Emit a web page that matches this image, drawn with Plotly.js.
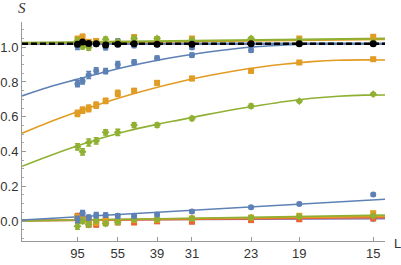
<!DOCTYPE html>
<html><head><meta charset="utf-8">
<script src="https://cdn.plot.ly/plotly-3.0.1.min.js"></script>
<style>html,body{margin:0;padding:0;background:#fff}#c{width:401px;height:265px}</style>
</head><body><div id="c"></div>
<script>
// System sizes L (x axis shows 1/L)
const L = [95, 87, 79, 71, 63, 55, 47, 39, 31, 23, 19, 15];
const tickL = [95, 55, 39, 31, 23, 19, 15];
const yTicks = [0.0, 0.2, 0.4, 0.6, 0.8, 1.0];

// top cluster (near 1)
const topBlack  = [1.017, 1.03, 1.022, 1.02, 1.012, 1.017, 1.02, 1.017, 1.017, 1.02, 1.02, 1.02];
const topGreen  = [1.035, 1.005, 0.998, 1.02, 1.046, 1.03, 1.05, 1.05, 1.04, 1.05, 1.04, 1.03];
const topOrange = [1.045, 1.06, 1.03, 1.036, 1.02, 1.025, 1.058, 1.045, 1.05, 1.04, 1.05, 1.06];
const topBlue   = [1.005, 1.02, 1.012, 1.02, 0.998, 1.035, 1.01, 1.015, 0.998, 1.02, 1.02, 1.02];

// middle curves
const midBlue   = [0.79, 0.806, 0.84, 0.864, 0.862, 0.90, 0.914, 0.937, 0.954, 0.983, 1.02, 1.02];
const midOrange = [0.619, 0.638, 0.648, 0.667, 0.691, 0.734, 0.749, 0.795, 0.82, 0.864, 0.912, 0.931];
const midGreen  = [0.427, 0.398, 0.452, 0.461, 0.51, 0.51, 0.552, 0.552, 0.59, 0.661, 0.69, 0.73];

// bottom cluster (near 0)
const botBlue   = [0.01, 0.045, 0.02, 0.034, 0.034, 0.03, 0.03, 0.038, 0.055, 0.079, 0.098, 0.152];
const botOrange = [0.02, 0.01, 0.0, -0.01, 0.01, -0.005, 0.005, 0.005, 0.015, 0.02, 0.03, 0.045];
const botGreen  = [-0.03, 0.0, -0.02, 0.005, -0.015, -0.005, 0.01, 0.01, 0.015, 0.02, 0.025, 0.03];
const botRed    = [0.025, 0.015, -0.02, -0.02, -0.01, -0.008, -0.008, -0.002, -0.004, 0.005, 0.01, 0.015];
const botPurple = [0.005, 0.04, 0.01, 0.005, 0.01, 0.005, 0.008, 0.01, 0.008, 0.008, 0.01, 0.01];

// error bars
const errTop = [0.018, 0.015, 0.015, 0.012, 0.012, 0.012, 0.012, 0.01, 0.01, 0.008, 0.008, 0.008];
const errMid = [0.018, 0.018, 0.02, 0.018, 0.015, 0.018, 0.014, 0.012, 0.012, 0.012, 0.008, 0.008];
const errBot = [0.018, 0.015, 0.015, 0.015, 0.012, 0.012, 0.012, 0.01, 0.01, 0.008, 0.008, 0.008];

// fitted curves, read at these 1/L positions
const fitX = [0, 0.005, 0.01, 0.015, 0.02, 0.025, 0.03, 0.035, 0.04, 0.045, 0.05, 0.055, 0.06, 0.065, 0.069];
const fitBlue   = [0.72, 0.77, 0.812, 0.852, 0.889, 0.921, 0.948, 0.971, 0.99, 1.004, 1.013, 1.019, 1.021, 1.02, 1.018];
const fitOrange = [0.505, 0.567, 0.623, 0.675, 0.722, 0.764, 0.801, 0.834, 0.862, 0.885, 0.903, 0.917, 0.925, 0.927, 0.926];
const fitGreen  = [0.315, 0.373, 0.427, 0.476, 0.518, 0.552, 0.582, 0.612, 0.64, 0.665, 0.688, 0.706, 0.718, 0.724, 0.725];

const lineX = [0, 0.069];
const lineBlack     = [1.02, 1.02];
const lineTopBlue   = [1.02, 1.02];
const lineTopOrange = [1.022, 1.044];
const lineTopGreen  = [1.025, 1.05];
const lineBotBlue   = [0.006, 0.125];
const lineBotGreen  = [0.0, 0.034];
const lineBotOrange = [0.003, 0.027];
const lineBotRed    = [0.0, 0.02];
const lineBotPurple = [0.005, 0.013];

const C = {blue:'#5E81B5', orange:'#E19C24', green:'#8FB032', red:'#EB6235', purple:'#8778B3', black:'#000000'};
const X = L.map(v => 1 / v);

function line(xs, ys, color, dash, w) {
  return {x: xs, y: ys, mode: 'lines', type: 'scatter', line: {color: color, width: w || 1.6, dash: dash || 'solid', shape: 'spline'}, hoverinfo: 'skip', showlegend: false};
}
function pts(ys, color, symbol, errs) {
  return {x: X, y: ys, mode: 'markers', type: 'scatter', marker: {color: color, size: 6, symbol: symbol},
    error_y: {type: 'data', array: errs, visible: true, color: color, thickness: 1.5, width: 2.5},
    showlegend: false, hoverinfo: 'skip'};
}

const data = [
  line(lineX, lineBotPurple, C.purple), line(lineX, lineBotRed, C.red),
  line(lineX, lineBotOrange, C.orange), line(lineX, lineBotGreen, C.green),
  line(lineX, lineBotBlue, C.blue),
  pts(botPurple, C.purple, 'triangle-down', errBot), pts(botRed, C.red, 'square', errBot),
  pts(botOrange, C.orange, 'square', errBot), pts(botGreen, C.green, 'diamond', errBot),
  pts(botBlue, C.blue, 'circle', errBot),
  line(fitX, fitGreen, C.green), line(fitX, fitOrange, C.orange), line(fitX, fitBlue, C.blue),
  pts(midGreen, C.green, 'diamond', errMid), pts(midOrange, C.orange, 'square', errMid),
  pts(midBlue, C.blue, 'circle', errMid),
  line(lineX, lineTopBlue, C.blue, 'solid', 2.5), line(lineX, lineTopOrange, C.orange), line(lineX, lineTopGreen, C.green, 'solid', 2),
  pts(topBlue, C.blue, 'circle', errTop), pts(topOrange, C.orange, 'square', errTop),
  pts(topGreen, C.green, 'diamond', errTop),
  line(lineX, lineBlack, C.black, '6px,3px', 2.5),
  {x: X, y: topBlack, mode: 'markers', type: 'scatter', marker: {color: '#000', size: 7, symbol: 'circle'}, showlegend: false, hoverinfo: 'skip'}
];

const layout = {
  width: 401, height: 265,
  margin: {l: 22, r: 16, t: 22, b: 24},
  paper_bgcolor: '#fff', plot_bgcolor: '#fff',
  font: {family: 'Liberation Sans, Arial, sans-serif', size: 13, color: '#333'},
  xaxis: {
    range: [0, 0.0689], tickvals: tickL.map(v => 1 / v), ticktext: tickL.map(String),
    showgrid: false, zeroline: false, showline: true, linecolor: '#999', linewidth: 1,
    ticks: 'inside', ticklen: 4, tickcolor: '#999', tickfont: {size: 13, color: '#333'}
  },
  yaxis: {
    range: [-0.115, 1.145], tickvals: yTicks, ticktext: yTicks.map(v => v.toFixed(1)),
    showgrid: false, zeroline: false, showline: true, linecolor: '#999', linewidth: 1,
    ticks: 'inside', ticklen: 4, tickcolor: '#999', tickfont: {size: 13, color: '#333'},
    minor: {dtick: 0.05, tick0: 0, ticks: 'inside', ticklen: 2, tickcolor: '#aaa', showgrid: false}
  },
  annotations: [
    {text: '<i>S</i>', xref: 'paper', yref: 'paper', x: 0, y: 1, xanchor: 'center', yanchor: 'middle',
     yshift: 14, showarrow: false, font: {family: 'Liberation Serif, serif', size: 15, color: '#333'}},
    {text: 'L', xref: 'paper', yref: 'paper', x: 1, y: 0, xanchor: 'center', yanchor: 'middle',
     xshift: 12, yshift: -2, showarrow: false, font: {size: 13, color: '#333'}}
  ]
};

Plotly.newPlot('c', data, layout, {staticPlot: true, displayModeBar: false});
</script></body></html>
